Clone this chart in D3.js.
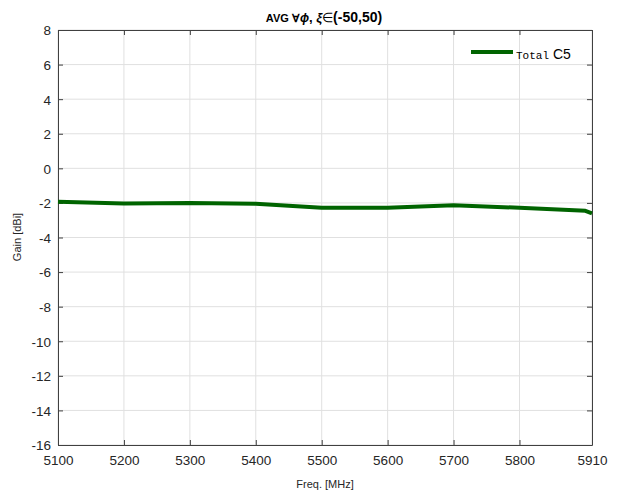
<!DOCTYPE html>
<html><head><meta charset="utf-8">
<script src="https://cdn.jsdelivr.net/npm/d3@7"></script>
<style>body{margin:0;background:#fff}svg{display:block}text{font-family:"Liberation Sans",Arial,sans-serif}</style>
</head><body><svg id="c" width="619" height="491"></svg>
<script>
const freqs = [5100, 5200, 5300, 5400, 5500, 5600, 5700, 5800, 5900, 5910];
const gainTotalC5 = [-1.93, -2.04, -2.0, -2.05, -2.28, -2.28, -2.14, -2.28, -2.46, -2.6];
const xTicks = [5100, 5200, 5300, 5400, 5500, 5600, 5700, 5800, 5910];
const yTicks = [8, 6, 4, 2, 0, -2, -4, -6, -8, -10, -12, -14, -16];

const svg = d3.select("#c");
const L = 58, R = 592, T = 30, B = 445;
const x = d3.scaleLinear().domain([5100, 5910]).range([L, R]);
const y = d3.scaleLinear().domain([-16, 8]).range([B, T]);
const axCol = "#404040";
const fmt = d => String(d);

// grid
svg.append("g").selectAll("line").data(xTicks).join("line")
  .attr("x1", d => x(d)).attr("x2", d => x(d)).attr("y1", T).attr("y2", B)
  .attr("stroke", "#e0e0e0").attr("stroke-width", 1);
svg.append("g").selectAll("line").data(yTicks).join("line")
  .attr("x1", L).attr("x2", R).attr("y1", d => y(d)).attr("y2", d => y(d))
  .attr("stroke", "#e0e0e0").attr("stroke-width", 1);

// axes
const xb = svg.append("g").attr("transform", `translate(0,${B})`)
  .call(d3.axisBottom(x).tickValues(xTicks).tickFormat(fmt).tickSizeInner(-5).tickSizeOuter(0).tickPadding(10));
const xt = svg.append("g").attr("transform", `translate(0,${T})`)
  .call(d3.axisTop(x).tickValues(xTicks).tickFormat("").tickSizeInner(-5).tickSizeOuter(0));
const yl = svg.append("g").attr("transform", `translate(${L},0)`)
  .call(d3.axisLeft(y).tickValues(yTicks).tickFormat(fmt).tickSizeInner(-5).tickSizeOuter(0).tickPadding(7));
const yr = svg.append("g").attr("transform", `translate(${R},0)`)
  .call(d3.axisRight(y).tickValues(yTicks).tickFormat("").tickSizeInner(-5).tickSizeOuter(0));
[xb, xt, yl, yr].forEach(g => {
  g.select(".domain").attr("stroke", axCol);
  g.selectAll(".tick line").attr("stroke", axCol);
  g.selectAll("text").attr("fill", "#262626").style("font-size", "13.5px").style("font-family", '"Liberation Sans",Arial,sans-serif');
});
yl.selectAll("text").attr("dy", "0.36em");

// line
svg.append("path").datum(freqs.map((f, i) => [f, gainTotalC5[i]]))
  .attr("fill", "none").attr("stroke", "#006400").attr("stroke-width", 4)
  .attr("stroke-linejoin", "round")
  .attr("d", d3.line().x(d => x(d[0])).y(d => y(d[1])));

// title
const title = svg.append("text").attr("x", 324).attr("y", 22).attr("text-anchor", "middle")
  .attr("font-weight", "bold").attr("fill", "#000");
title.append("tspan").style("font-size", "11px").text("AVG ∀");
title.append("tspan").style("font-size", "12px").attr("font-style", "italic").text("ϕ");
title.append("tspan").style("font-size", "13px").text(", ");
title.append("tspan").style("font-size", "13px").attr("font-style", "italic").text("ξ");
title.append("tspan").style("font-size", "13px").attr("font-weight", "normal").text("∈");
title.append("tspan").style("font-size", "14px").text("(-50,50)");

// axis labels
svg.append("text").attr("x", 325).attr("y", 488).attr("text-anchor", "middle")
  .style("font-size", "11px").attr("fill", "#262626").text("Freq. [MHz]");
svg.append("text").attr("transform", "translate(21,237) rotate(-90)").attr("text-anchor", "middle")
  .style("font-size", "11px").attr("fill", "#262626").text("Gain [dBi]");

// legend
svg.append("line").attr("x1", 471).attr("x2", 513).attr("y1", 52).attr("y2", 52)
  .attr("stroke", "#006400").attr("stroke-width", 4);
const lt = svg.append("text").attr("x", 516).attr("y", 59).attr("fill", "#000");
lt.append("tspan").style("font-family", '"Liberation Mono","DejaVu Sans Mono",monospace').style("font-size", "11px").text("Total");
lt.append("tspan").style("font-size", "14px").text(" C5");
</script></body></html>
